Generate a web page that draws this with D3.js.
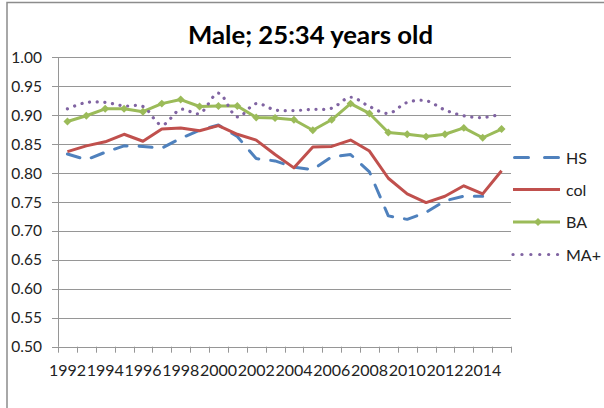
<!DOCTYPE html>
<html>
<head>
<meta charset="utf-8">
<script src="https://cdn.jsdelivr.net/npm/d3@7"></script>
<style>
  body { margin: 0; background: #fff; }
  svg { display: block; font-family: Lato, "Open Sans", sans-serif; }
</style>
</head>
<body>
<svg id="chart" width="604" height="408"></svg>
<script>
const years = d3.range(1992, 2016);
const yearLabels = ["1992","1994","1996","1998","2000","2002","2004","2006","2008","2010","2012","2014"];
const yTicks = [0.50,0.55,0.60,0.65,0.70,0.75,0.80,0.85,0.90,0.95,1.00];

const hs  = [0.833,0.823,0.836,0.847,0.846,0.843,0.860,0.874,0.883,0.863,0.825,0.821,0.810,0.806,0.828,0.832,0.802,0.726,0.720,0.732,0.752,0.760,0.760,null];
const col = [0.837,0.847,0.854,0.867,0.855,0.876,0.878,0.873,0.882,0.867,0.857,0.832,0.809,0.845,0.846,0.857,0.838,0.791,0.764,0.749,0.760,0.778,0.764,0.804];
const ba  = [0.889,0.899,0.911,0.911,0.906,0.920,0.927,0.915,0.916,0.916,0.896,0.895,0.892,0.874,0.892,0.920,0.903,0.870,0.867,0.863,0.867,0.878,0.861,0.876];
const ma  = [0.911,0.922,0.922,0.916,0.915,0.883,0.910,0.903,0.938,0.897,0.920,0.909,0.908,0.910,0.912,0.931,0.915,0.903,0.922,0.925,0.909,0.899,0.896,0.902];

const seriesNames = ["HS","col","BA","MA+"];
const seriesValues = [hs, col, ba, ma];

const svg = d3.select("#chart");

// outer chart frame (cut by the window on right/bottom)
svg.append("rect")
  .attr("x", 7).attr("y", 2.5)
  .attr("width", 640).attr("height", 440)
  .attr("fill", "none")
  .attr("stroke", "#8c8c8c")
  .attr("stroke-width", 1.5);

const plotL = 58, plotR = 511, plotT = 57.3, plotB = 346.7;

const x = d3.scaleBand().domain(years).range([plotL, plotR]);
const y = d3.scaleLinear().domain([0.5, 1]).range([plotB, plotT]);

// gridlines
svg.append("g")
  .selectAll("line")
  .data(yTicks)
  .join("line")
  .attr("x1", plotL - 6).attr("x2", plotR)
  .attr("y1", d => Math.round(y(d)) + 0.5).attr("y2", d => Math.round(y(d)) + 0.5)
  .attr("stroke", "#969696")
  .attr("stroke-width", 1);

// y axis labels
svg.append("g")
  .selectAll("text")
  .data(yTicks)
  .join("text")
  .attr("x", 42)
  .attr("y", d => y(d) + 5.5)
  .attr("text-anchor", "end")
  .attr("font-size", "15.5px")
  .attr("fill", "#222")
  .text(d => d.toFixed(2));

// y axis line
svg.append("line")
  .attr("x1", plotL + 0.5).attr("x2", plotL + 0.5)
  .attr("y1", plotT).attr("y2", plotB)
  .attr("stroke", "#969696");

// x axis ticks at category boundaries
const xTickPos = years.map(d => x(d)).concat([plotR]);
svg.append("g")
  .selectAll("line")
  .data(xTickPos)
  .join("line")
  .attr("x1", d => Math.round(d) + 0.5).attr("x2", d => Math.round(d) + 0.5)
  .attr("y1", plotB).attr("y2", plotB + 6)
  .attr("stroke", "#969696");

svg.append("g")
  .selectAll("text")
  .data(yearLabels)
  .join("text")
  .attr("x", d => x(+d) + x.bandwidth() / 2)
  .attr("y", 376)
  .attr("text-anchor", "middle")
  .attr("font-size", "16px")
  .attr("fill", "#222")
  .text(d => d);

// title
svg.append("text")
  .attr("x", 310.5)
  .attr("y", 43.5)
  .attr("text-anchor", "middle")
  .attr("font-size", "24.5px")
  .attr("font-weight", "bold")
  .attr("fill", "#000")
  .attr("textLength", 245)
  .attr("lengthAdjust", "spacingAndGlyphs")
  .text("Male; 25:34 years old");

const styles = {
  "HS":  { color: "#4f81bd", dash: "13,12", curve: d3.curveLinear },
  "col": { color: "#c0504d", dash: null, curve: d3.curveLinear },
  "BA":  { color: "#9bbb59", dash: null, curve: d3.curveLinear },
  "MA+": { color: "#8064a2", dash: "0.1,7.6", curve: d3.curveCatmullRom }
};

const cx = i => x(years[i]) + x.bandwidth() / 2;

seriesNames.forEach((name, k) => {
  const st = styles[name];
  const line = d3.line()
    .defined(d => d != null)
    .x((d, i) => cx(i))
    .y(d => y(d))
    .curve(st.curve);
  svg.append("path")
    .datum(seriesValues[k])
    .attr("d", line)
    .attr("fill", "none")
    .attr("stroke", st.color)
    .attr("stroke-width", name === "MA+" ? 3.2 : 3)
    .attr("stroke-linecap", st.dash ? "round" : "butt")
    .attr("stroke-linejoin", "round")
    .attr("stroke-dasharray", st.dash);
});

// BA markers
svg.append("g")
  .selectAll("path")
  .data(ba)
  .join("path")
  .attr("transform", (d, i) => `translate(${cx(i)},${y(d)})`)
  .attr("d", d3.symbol(d3.symbolDiamond2, 40))
  .attr("fill", styles.BA.color);

// legend
const legendY = [157.5, 189.5, 222, 254.5];
const legend = svg.append("g");
seriesNames.forEach((name, k) => {
  const st = styles[name];
  const g = legend.append("g").attr("transform", `translate(0,${legendY[k]})`);
  g.append("line")
    .attr("x1", name === "HS" ? 514.5 : 513).attr("x2", name === "HS" ? 558.5 : 560)
    .attr("y1", 0).attr("y2", 0)
    .attr("stroke", st.color)
    .attr("stroke-width", name === "MA+" ? 3.2 : 3)
    .attr("stroke-linecap", st.dash ? "round" : "butt")
    .attr("stroke-dasharray", name === "HS" ? "14,16" : (name === "MA+" ? "0.1,8.8" : null));
  if (name === "BA") {
    g.append("path")
      .attr("transform", "translate(538,0)")
      .attr("d", d3.symbol(d3.symbolDiamond2, 40))
      .attr("fill", st.color);
  }
  g.append("text")
    .attr("x", 566)
    .attr("y", 6)
    .attr("font-size", "16px")
    .attr("fill", "#222")
    .text(name);
});
</script>
</body>
</html>
